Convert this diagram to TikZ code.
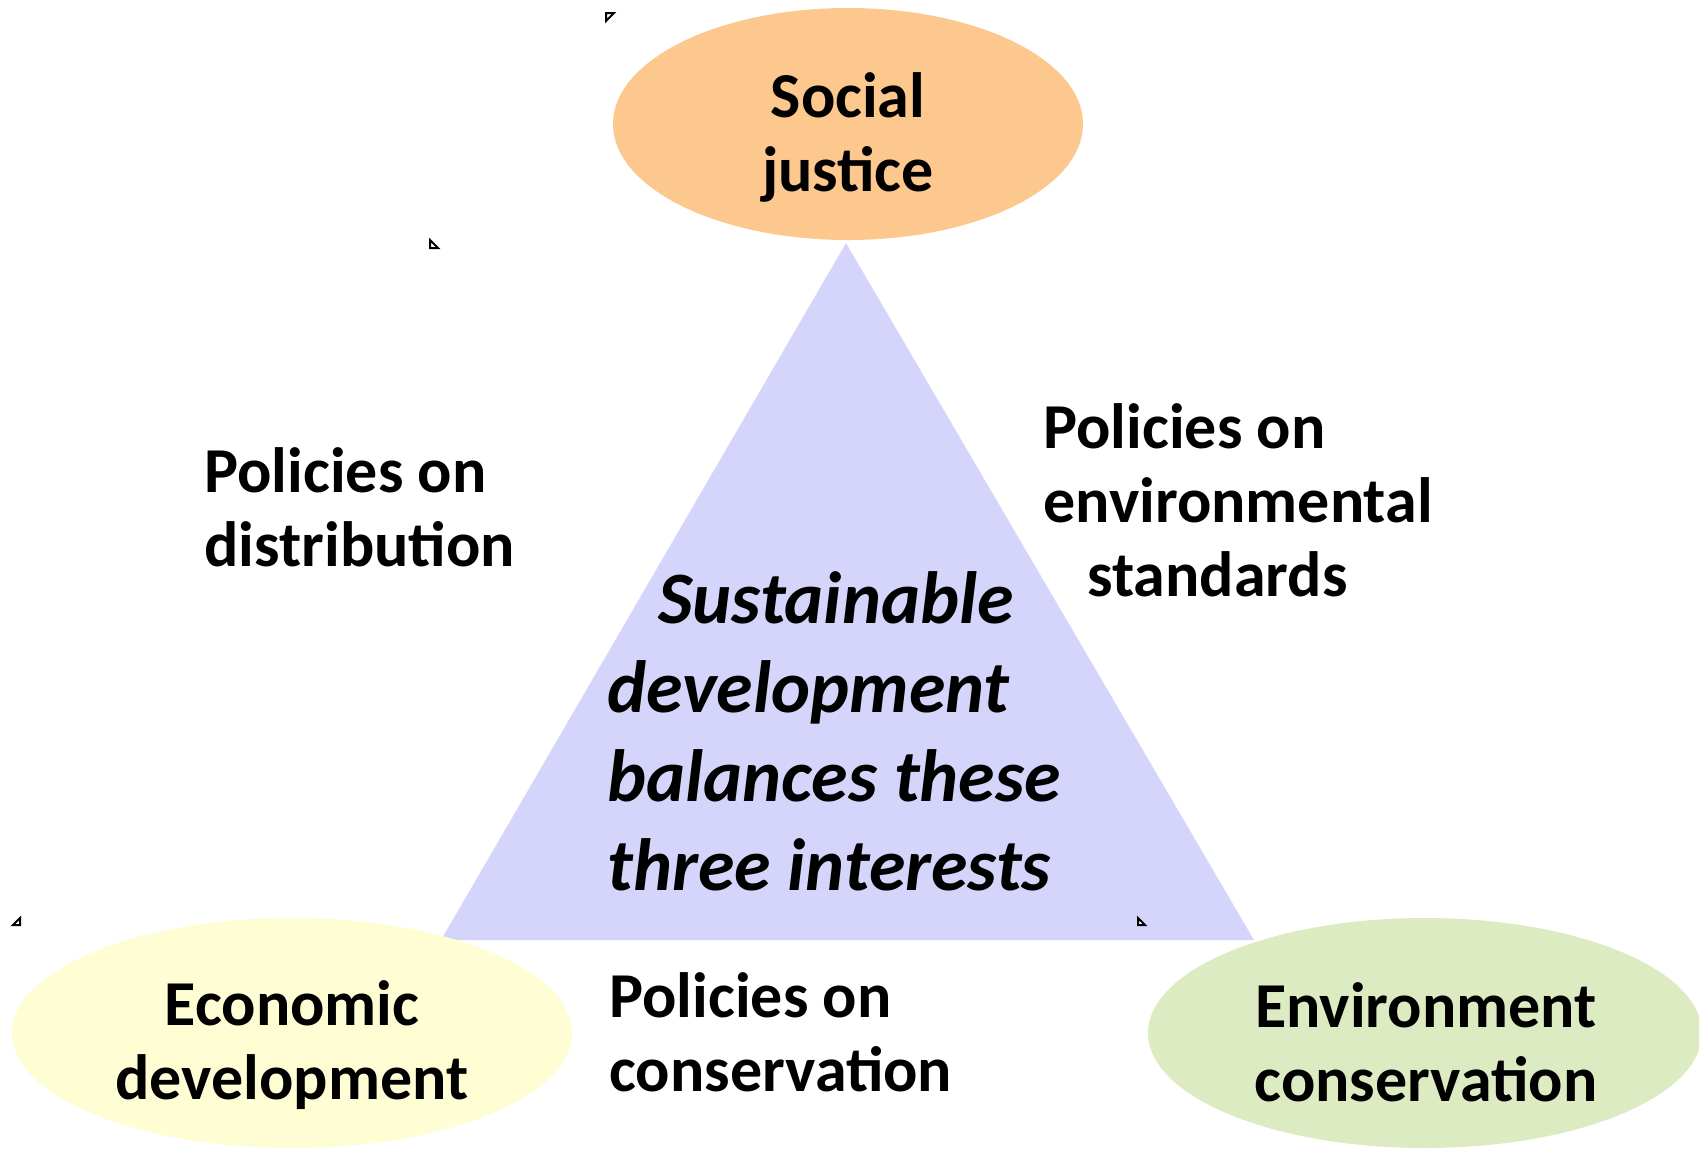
\documentclass[tikz,border=0pt]{standalone}
\usepackage{fontspec}
\setmainfont{Carlito}
\definecolor{peach}{RGB}{252,200,142}
\definecolor{paleyellow}{RGB}{255,253,212}
\definecolor{palegreen}{RGB}{221,235,195}
\definecolor{lavender}{RGB}{213,213,251}
\begin{document}
\begin{tikzpicture}[x=0.5pt,y=-0.5pt,
  label/.style={font=\fontsize{32}{37}\selectfont\bfseries, inner sep=0pt},
  core/.style={font=\fontsize{37}{44.5}\selectfont\bfseries\itshape, inner sep=0pt, align=left},
  cornermark/.style={draw=black, line width=1pt, fill=white}]
\useasboundingbox (0,0) rectangle (1699,1148);
% central triangle
\coordinate (apex) at (846,243);
\coordinate (bl) at (441,940);
\coordinate (br) at (1254,940);
\fill[lavender] (apex) -- (bl) -- (br) -- cycle;
% the three interests
\fill[peach] (848,124) ellipse [x radius=235, y radius=116];
\fill[paleyellow] (292,1033) ellipse [x radius=280, y radius=115];
\fill[palegreen] (1425,1033) ellipse [x radius=277, y radius=115];
\node[label, align=center] (social) at (848,137) {Social\\justice};
\node[label, align=center] (econ) at (292,1045) {Economic\\development};
\node[label, align=center] (env) at (1426,1042) {Environment\\conservation};
% policy labels
\node[label, align=left, anchor=west] (distr) at (204,507) {Policies on\\distribution};
\node[label, align=left, anchor=west] (stand) at (1043,500) {Policies on\\environmental\\\hspace*{22pt}standards};
\node[label, align=left, anchor=west] (conserv) at (609,1032) {Policies on\\conservation};
% centre statement
\node[core, anchor=west] (sd) at (607,731) {\hspace*{25.5pt}Sustainable\\development\\balances these\\three interests};
% small corner marks
\draw[cornermark] (606,13) -- (614,13) -- (606,21) -- cycle;
\draw[cornermark] (430,240) -- (430,248) -- (438,248) -- cycle;
\draw[cornermark] (13,925) -- (20,925) -- (20,918) -- cycle;
\draw[cornermark] (1138,918) -- (1138,925) -- (1145,925) -- cycle;
\end{tikzpicture}
\end{document}
